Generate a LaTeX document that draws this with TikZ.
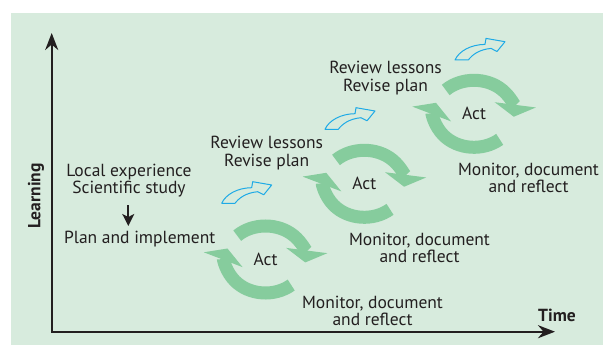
\documentclass[tikz,border=0pt]{standalone}
\usepackage{fontspec}
\setmainfont{PT Sans}
\usetikzlibrary{arrows.meta}

\definecolor{bggreen}{RGB}{215,235,221}
\definecolor{cyclegreen}{RGB}{134,204,157}
\definecolor{arrowblue}{RGB}{30,170,230}
\definecolor{ink}{RGB}{35,31,32}

\begin{document}
\begin{tikzpicture}[x=1pt,y=1pt,
	every node/.style={text=ink,inner sep=0pt,align=center,font=\fontsize{17.5}{17.5}\selectfont},
	lbl/.style={font=\fontsize{17.5}{17.5}\selectfont\bfseries},
	axis/.style={draw=ink,line width=2.4pt,{Stealth[length=17pt,width=13pt]}-{Stealth[length=17pt,width=13pt]}},
	cyc/.style={draw=cyclegreen,line width=13pt,-{Triangle[width=41pt,length=12pt]}},
	hollow/.style={draw=arrowblue,line width=1pt,line join=round}]
	\useasboundingbox (0,0) rectangle (603,-345);
	\fill[bggreen] (11,-13) rectangle (603,-345);

	% axes
	\coordinate (o) at (51.7,-331.7);
	\coordinate (y_end) at (51.7,-33);
	\coordinate (x_end) at (555,-331.7);
	\draw[axis] (y_end) -- (o) -- (x_end);
	\node[lbl,rotate=90] (learn) at (36,-196) {Learning};
	\node[lbl] (time) at (557,-315) {Time};

	% start
	\node (local) at (129,-180.5) {Local experience\\Scientific study};
	\node (plan) at (139.7,-239) {Plan and implement};
	\draw[ink,line width=1.7pt,-{Stealth[length=12pt,width=12pt,inset=3pt]}] (128.3,-205) -- (128.3,-226);

	% cycles
	\node (act_1) at (265.5,-259) {Act};
	\node (act_2) at (364.3,-183.3) {Act};
	\node (act_3) at (474,-113.3) {Act};
	\foreach \c in {1,2,3}{
		\draw[cyc] (act_\c.center) ++(135:40 and 33) arc[start angle=135,end angle=-6,x radius=40,y radius=33];
		\draw[cyc] (act_\c.center) ++(-50:40 and 34) arc[start angle=-50,end angle=-198,x radius=40,y radius=34];
	}
	\node (mon_1) at (372.5,-311) {Monitor, document\\and reflect};
	\node (mon_2) at (419.5,-248) {Monitor, document\\and reflect};
	\node (mon_3) at (528.5,-178) {Monitor, document\\and reflect};
	\node (rev_2) at (266.7,-153) {Review lessons\\Revise plan};
	\node (rev_3) at (385.5,-78) {Review lessons\\Revise plan};

	% blue arrows
	\foreach \p in {(221.7,-203.3),(325,-129.3),(455,-60)}
		\draw[hollow,shift={\p}] (0,0) .. controls (4,9) and (16,15.5) .. (30,15.6) -- (31,21.6) -- (50,18.3) -- (42,8.5) -- (36,11.6) .. controls (24,10.5) and (17,5) .. (13.3,0) -- cycle;
\end{tikzpicture}
\end{document}
